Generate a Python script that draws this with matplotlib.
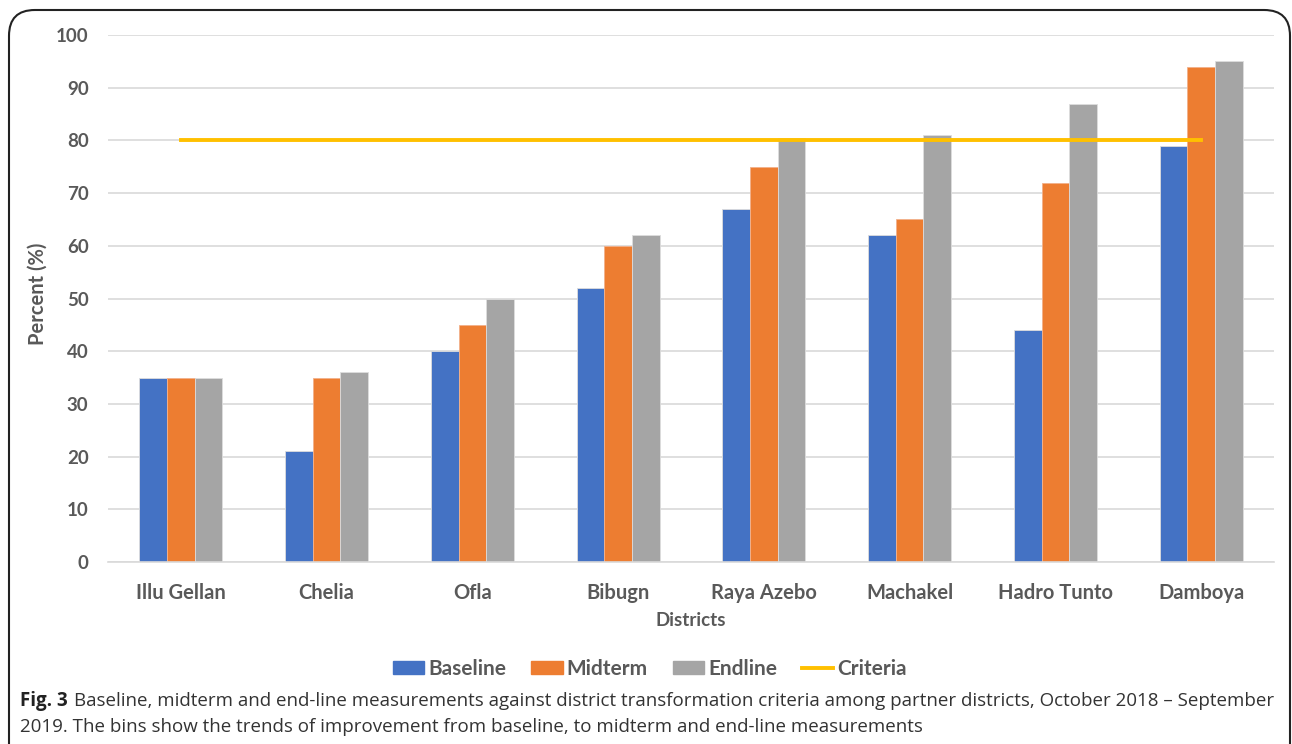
import numpy as np
import matplotlib.pyplot as plt
from matplotlib.patches import FancyBboxPatch, Patch
from matplotlib.lines import Line2D

districts = ['Illu Gellan', 'Chelia', 'Ofla', 'Bibugn', 'Raya Azebo',
             'Machakel', 'Hadro Tunto', 'Damboya']
baseline = [35, 21, 40, 52, 67, 62, 44, 79]
midterm = [35, 35, 45, 60, 75, 65, 72, 94]
endline = [35, 36, 50, 62, 80.5, 81, 87, 95]
criteria = [80] * len(districts)
yticks = list(range(0, 101, 10))

c_base = '#4472C4'
c_mid = '#ED7D31'
c_end = '#A5A5A5'
c_crit = '#FFC000'
txt = '#595959'
font = ['Lato', 'DejaVu Sans']

fig = plt.figure(figsize=(12.92, 7.44), dpi=100)
W, H = 1292, 744
ax = fig.add_axes([108 / W, 1 - 562 / H, (1274 - 108) / W, (562 - 35) / H])

x = np.arange(len(districts))
w = 0.19
ax.bar(x - w, baseline, w, color=c_base, edgecolor='#dddddd', linewidth=0.6, zorder=2)
ax.bar(x, midterm, w, color=c_mid, edgecolor='#f2b08a', linewidth=0.6, zorder=2)
ax.bar(x + w, endline, w, color=c_end, edgecolor='#dddddd', linewidth=0.6, zorder=2)
ax.plot(x, criteria, color=c_crit, linewidth=2.8, zorder=3)

ax.set_xlim(-0.5, len(districts) - 0.5)
ax.set_ylim(0, 100)
ax.set_yticks(yticks)
ax.set_xticks(x)
ax.set_xticklabels(districts)
ax.grid(axis='y', color='#d9d9d9', linewidth=1.2, zorder=0)
for s in ax.spines.values():
    s.set_visible(False)
ax.spines['bottom'].set_visible(True)
ax.spines['bottom'].set_color('#d9d9d9')
ax.spines['bottom'].set_linewidth(1.2)
ax.tick_params(length=0, labelcolor=txt)
ax.tick_params(axis='x', labelsize=14.5, pad=15)
ax.tick_params(axis='y', labelsize=13.5, pad=14)
for lab in ax.get_xticklabels() + ax.get_yticklabels():
    lab.set_fontweight('bold')
    lab.set_family(font)

fig.text(38 / W, 1 - 294 / H, 'Percent (%)', rotation=90, ha='center', va='center',
         fontsize=14.5, fontweight='bold', color=txt, family=font)
fig.text(691 / W, 1 - 620 / H, 'Districts', ha='center', va='center',
         fontsize=13.5, fontweight='bold', color=txt, family=font)

handles = [Patch(color=c_base, label='Baseline'),
           Patch(color=c_mid, label='Midterm'),
           Patch(color=c_end, label='Endline'),
           Line2D([0], [0], color=c_crit, linewidth=2.8, label='Criteria')]
leg = fig.legend(handles=handles, loc='center', bbox_to_anchor=(650 / W, 1 - 669 / H),
                 ncol=4, frameon=False, handlelength=1.5, handleheight=0.55,
                 handletextpad=0.2, columnspacing=1.2,
                 prop={'family': font, 'weight': 'bold', 'size': 15})
for t in leg.get_texts():
    t.set_color(txt)

# caption
cap_font = ['Open Sans', 'DejaVu Sans']
fig.text(20 / W, 1 - 701 / H, 'Fig. 3', ha='left', va='center', fontsize=13.5,
         fontweight='bold', color='#222222', family=cap_font)
fig.text(74 / W, 1 - 701 / H,
         'Baseline, midterm and end-line measurements against district transformation '
         'criteria among partner districts, October 2018 \u2013 September',
         ha='left', va='center', fontsize=13.5, color='#333333', family=cap_font)
fig.text(20 / W, 1 - 727 / H,
         '2019. The bins show the trends of improvement from baseline, to midterm and '
         'end-line measurements',
         ha='left', va='center', fontsize=13.5, color='#333333', family=cap_font)

# rounded frame
frame = FancyBboxPatch((9 / W, -0.05), (1290 - 9) / W, 1 - 10 / H + 0.05,
                       boxstyle='round,pad=0,rounding_size=0.02',
                       transform=fig.transFigure, fill=False,
                       edgecolor='#222222', linewidth=1.5, mutation_aspect=W / H)
fig.patches.append(frame)

fig.savefig('out.png', dpi=100)
